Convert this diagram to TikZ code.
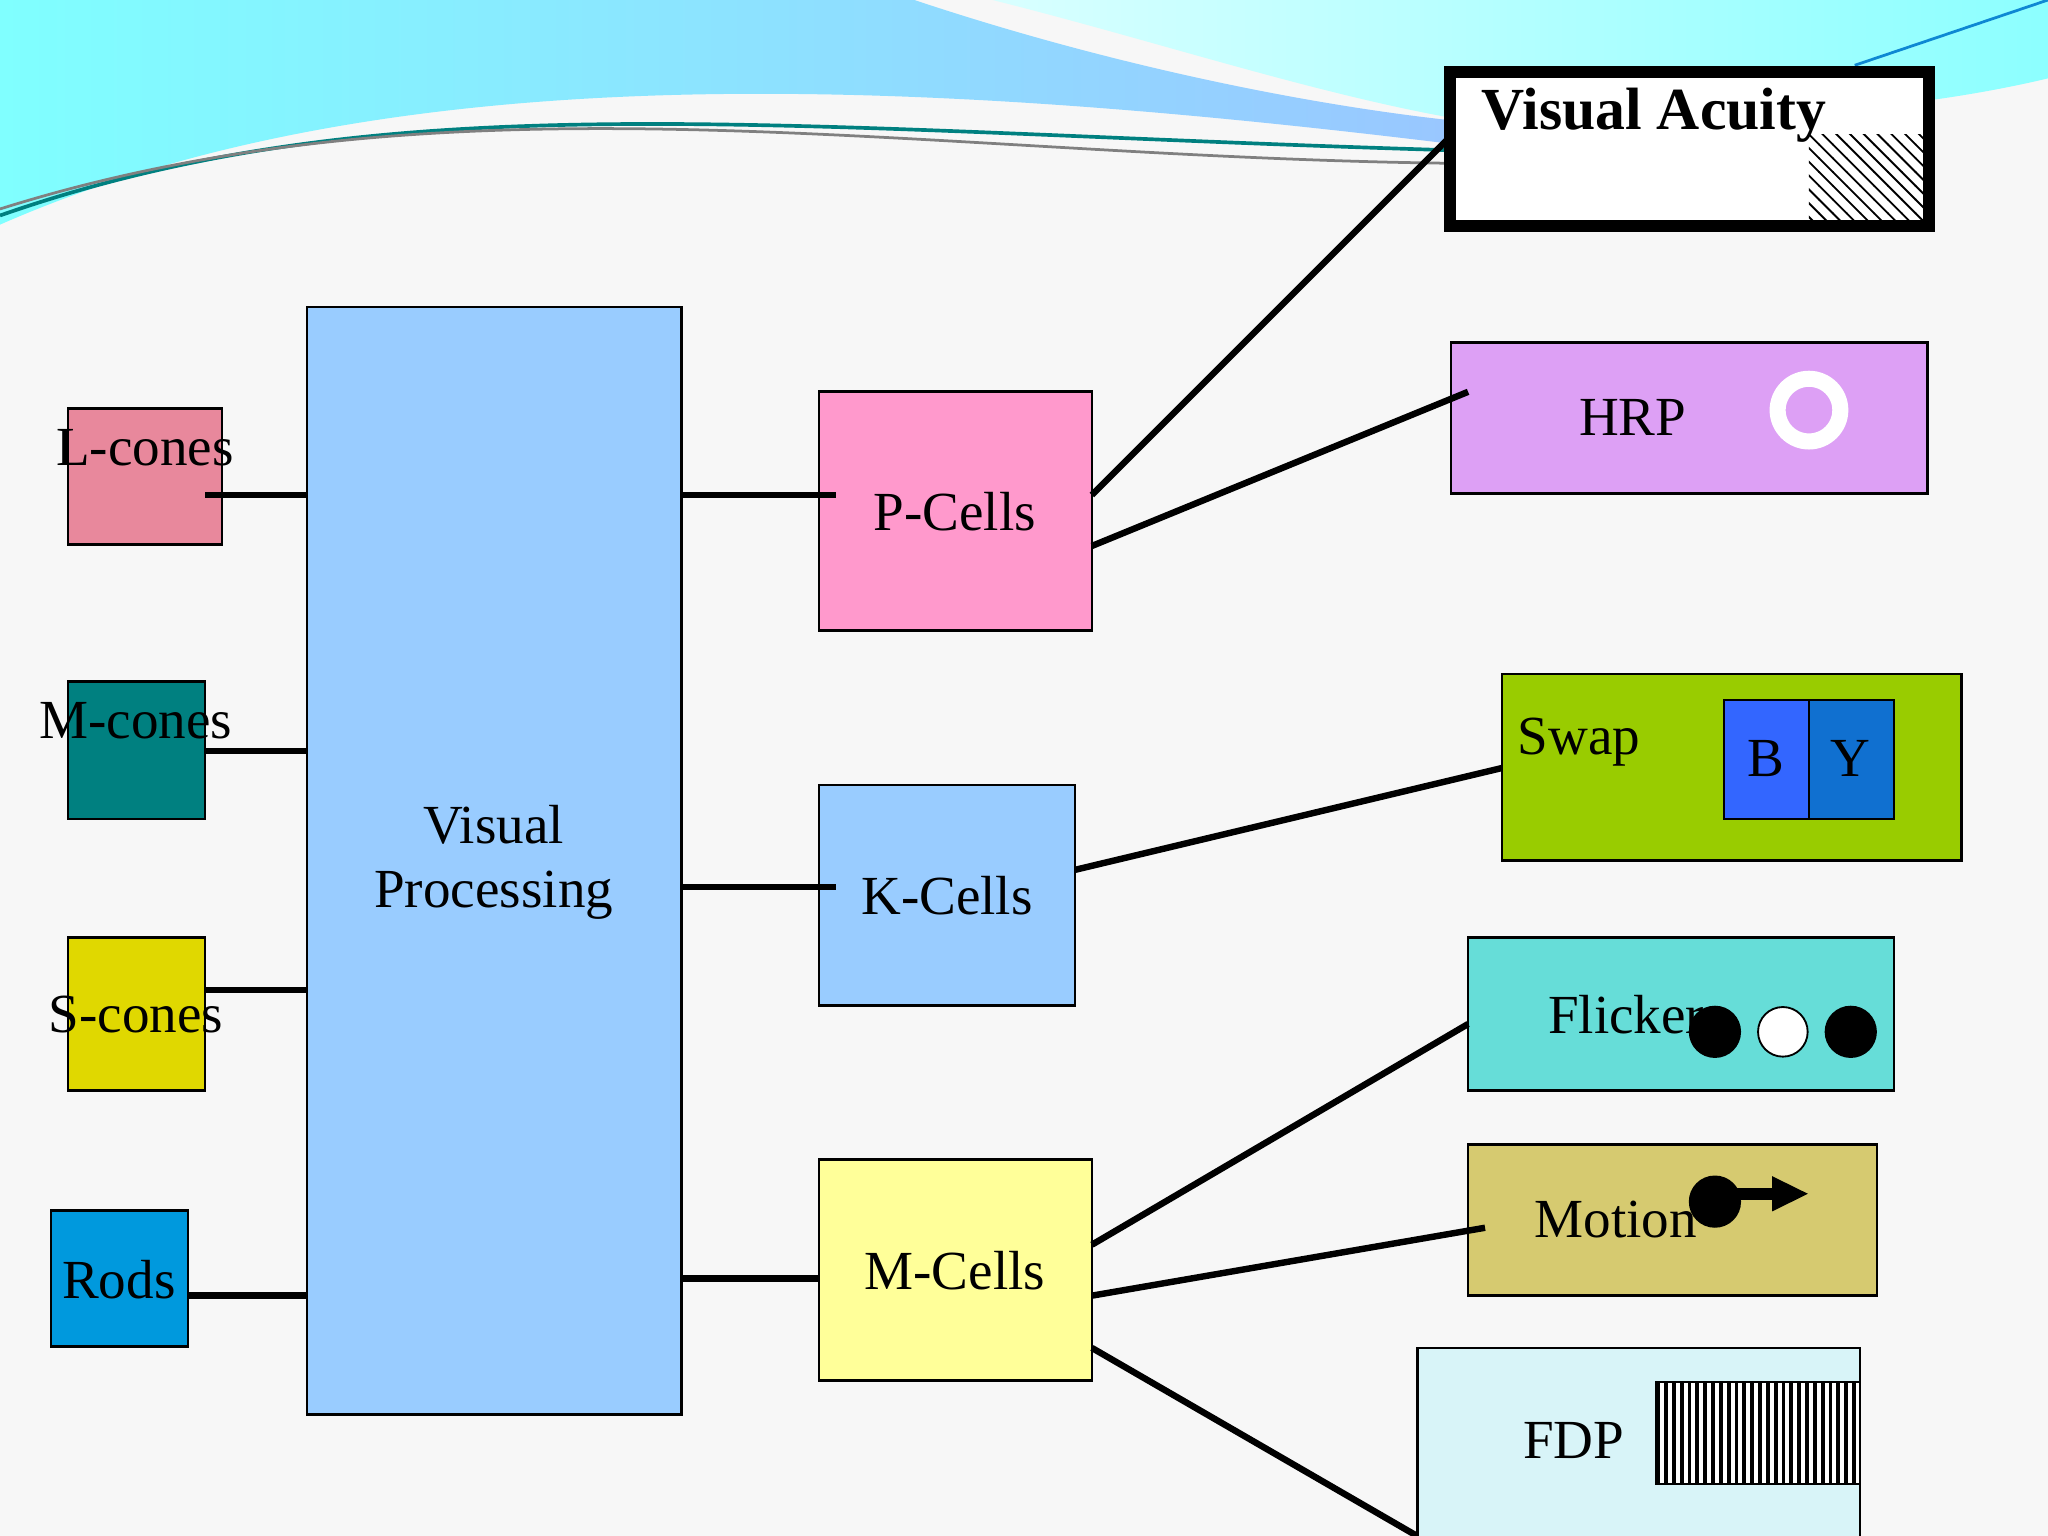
\documentclass[tikz,border=0pt]{standalone}
\usepackage{fontspec}
\setmainfont{Liberation Serif}
\usetikzlibrary{patterns,arrows.meta,fit}
\definecolor{cL}{HTML}{E8889C}
\definecolor{cP}{HTML}{FF99CC}
\definecolor{cH}{HTML}{DDA0F5}
\definecolor{cSw}{HTML}{99CC00}
\definecolor{cF}{HTML}{66DDD8}
\definecolor{cMo}{HTML}{D6CA70}
\definecolor{cR}{HTML}{0099DD}
\definecolor{cB}{HTML}{3366FF}
\definecolor{cY}{HTML}{1070D0}
\definecolor{cV}{HTML}{99CCFF}
\definecolor{cS}{HTML}{E0D800}
\definecolor{cM}{HTML}{FFFF99}
\definecolor{cFD}{HTML}{D8F4F8}
\begin{document}
\begin{tikzpicture}[x=0.01cm,y=-0.01cm,
 box/.style={draw=black,line width=0.6pt,inner sep=0pt},
 lbl/.style={font=\fontsize{12}{14}\selectfont},
 con/.style={line width=1.4pt}]
\useasboundingbox (0,0) rectangle (1568,1176);
\fill[gray!6] (0,0) rectangle (1568,1176);
% top swoosh
\shade[left color=cyan!50, right color=cyan!45!blue!40] (0,0) -- (700,0) .. controls (850,50) and (1000,80) .. (1110,92) -- (1110,110) .. controls (700,60) and (300,40) .. (0,172) -- cycle;
\shade[left color=cyan!15, right color=cyan!45] (760,0) -- (1568,0) -- (1568,60) .. controls (1400,100) and (1200,90) .. (1110,90) .. controls (1000,70) and (880,30) .. (760,0) -- cycle;
\draw[teal,line width=0.8pt] (0,165) .. controls (300,60) and (600,100) .. (1110,115);
\draw[gray,line width=0.6pt] (0,160) .. controls (350,50) and (700,120) .. (1110,125);
\draw[cyan!70!blue,line width=0.6pt] (1420,50) -- (1568,0);
% left
\node[box,fill=cL,fit={(52,313)(170,417)}] (Lc) {};
\node[lbl] at (111,343) {L-cones};
\node[box,fill=teal,fit={(52,522)(157,627)}] (Mc) {};
\node[lbl] at (104,552) {M-cones};
\node[box,fill=cS,fit={(52,718)(157,835)}] (Sc) {};
\node[lbl] at (104,777) {S-cones};
\node[box,fill=cR,fit={(39,927)(144,1031)}] (Rd) {};
\node[lbl] at (91,980) {Rods};
\node[box,fill=cV,fit={(235,235)(522,1083)}] (VP) {};
\node[lbl,align=center] at (378,660) {Visual\\Processing};
% cells
\node[box,fill=cP,fit={(627,300)(836,483)}] (P) {};
\node[lbl] at (731,392) {P-Cells};
\node[box,fill=cV,fit={(627,601)(823,770)}] (K) {};
\node[lbl] at (725,686) {K-Cells};
\node[box,fill=cM,fit={(627,888)(836,1057)}] (M) {};
\node[lbl] at (731,973) {M-Cells};
% right
\node[draw,line width=2.5pt,fill=white,inner sep=0pt,fit={(1110,55)(1477,173)}] (VA) {};
\fill[pattern=north west lines] (1385,103) rectangle (1477,173);
\draw[line width=2.5pt] (1110,55) rectangle (1477,173);
\node[font=\fontsize{13}{15}\selectfont\bfseries,anchor=west] at (1122,88) {Visual Acuity};
\node[box,fill=cH,fit={(1111,262)(1476,378)}] (H) {};
\node[lbl] at (1250,320) {HRP};
\draw[white,line width=3.5pt] (1385,314) circle (24);
\node[box,fill=cSw,fit={(1150,516)(1502,659)}] (Sw) {};
\node[lbl] at (1209,568) {Swap};
\node[box,fill=cB,fit={(1320,536)(1385,627)}] (B) {};
\node[lbl] at (1352,581) {B};
\node[box,fill=cY,fit={(1385,536)(1450,627)}] (Y) {};
\node[lbl] at (1417,581) {Y};
\node[box,fill=cF,fit={(1124,718)(1450,835)}] (F) {};
\node[lbl] at (1245,777) {Flicker};
\fill (1313,790) circle (20); \filldraw[fill=white,draw=black] (1365,790) circle (19); \fill (1417,790) circle (20);
\node[box,fill=cMo,fit={(1124,876)(1437,992)}] (Mo) {};
\node[lbl] at (1237,934) {Motion};
\fill (1313,920) circle (20);
\draw[line width=2.5pt,-{Triangle[length=8pt,width=7pt]}] (1330,914) -- (1385,914);
\node[box,fill=cFD,fit={(1085,1032)(1424,1200)}] (FD) {};
\node[lbl] at (1205,1103) {FDP};
\fill[white] (1268,1058) rectangle (1424,1136);
\foreach \i in {0,...,25} \fill (1268+\i*6,1058) rectangle (1271+\i*6,1136);
\draw (1268,1058) rectangle (1424,1136);
% connectors
\coordinate (l1) at (157,379);\coordinate (l2) at (157,575);\coordinate (l3) at (157,758);\coordinate (l4) at (144,992);
\draw[con] (l1) -- (235,379);
\draw[con] (l2) -- (235,575);
\draw[con] (l3) -- (235,758);
\draw[con] (l4) -- (235,992);
\coordinate (p0) at (640,379);\coordinate (k0) at (640,679);
\draw[con] (522,379) -- (p0);
\draw[con] (522,679) -- (k0);
\draw[con] (522,979) -- (627,979);
\draw[con] (836,379) -- (1110,105);
\draw[con] (836,418) -- (1124,300);
\draw[con] (823,666) -- (1150,588);
\draw[con] (836,953) -- (1124,784);
\draw[con] (836,992) -- (1137,940);
\draw[con] (836,1032) -- (1085,1176);
\end{tikzpicture}
\end{document}
